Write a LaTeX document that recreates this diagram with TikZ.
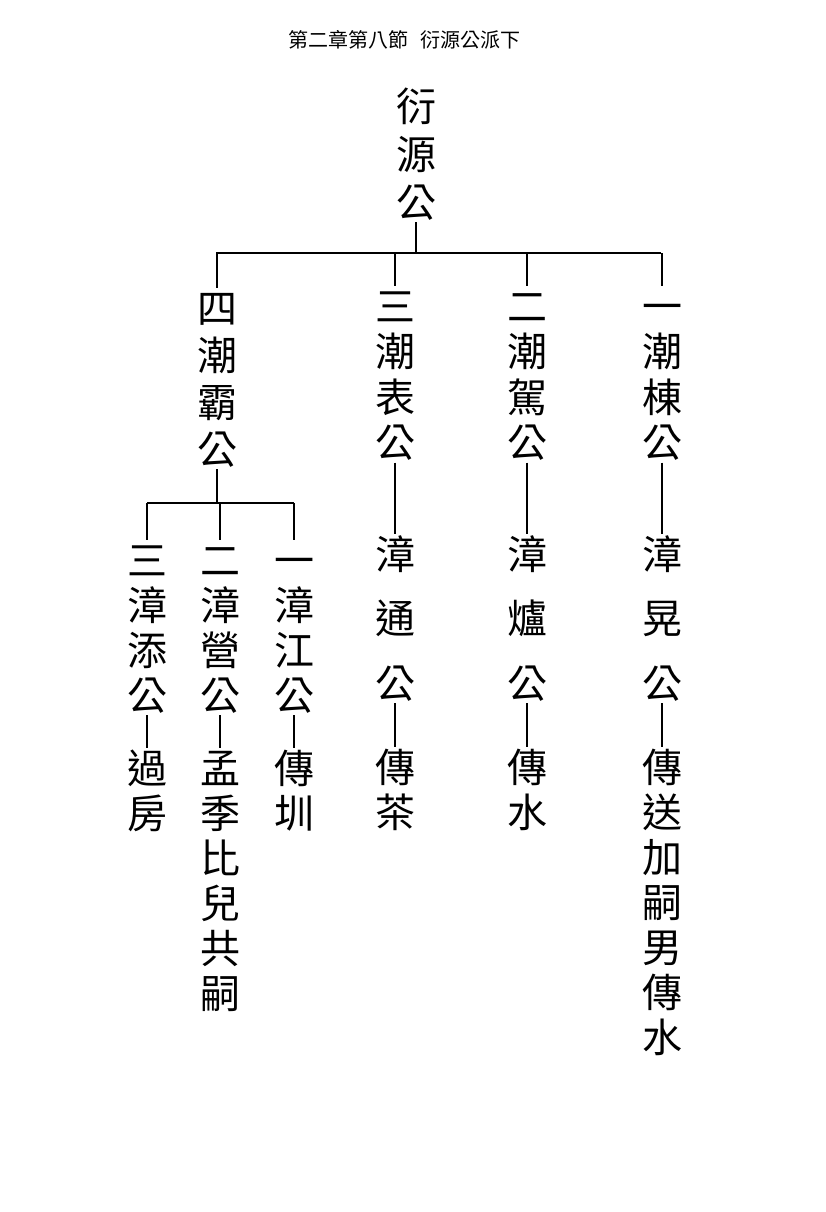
\documentclass[tikz,border=0pt]{standalone}
\usepackage{fontspec}
\newfontfamily\cjk{Noto Sans CJK TC}
\newcommand\vcol[5]{%
  \foreach \c [count=\i] in {#5}{\node[ch] (#1-\i) at ({#2},{#3+(\i-1)*#4}) {\c};}}
\begin{document}
\begin{tikzpicture}[x=1pt,y=-1pt,
  ch/.style={font=\cjk\fontsize{40}{40}\selectfont, inner sep=0pt,
             text height=35.2pt, text depth=4.8pt, anchor=center},
  ln/.style={line width=1.5pt, draw=black},
  ttl/.style={font=\cjk\fontsize{20}{20}\selectfont, inner sep=0pt}]
\useasboundingbox[fill=white] (0,0) rectangle (826,1212);
\node[ttl] (title) at (404,40) {第二章第八節\hspace{12pt}衍源公派下};
% top
\vcol{t}{416}{106}{48}{衍,源,公}
\coordinate (hl) at (216,253);
\coordinate (hr) at (661,253);
\draw[ln] (t-3.south) -- (t-3.south |- hl);
\draw[ln] (hl) -- (hr);
% column 1
\vcol{a1}{662}{306}{45.5}{一,潮,棟,公}
\vcol{a2}{662}{554}{64.5}{漳,晃,公}
\vcol{a3}{662}{767}{45}{傳,送,加,嗣,男,傳,水}
% column 2
\vcol{b1}{527}{306}{45.5}{二,潮,駕,公}
\vcol{b2}{527}{554}{64.5}{漳,爐,公}
\vcol{b3}{527}{767}{45}{傳,水}
% column 3
\vcol{c1}{395}{306}{45.5}{三,潮,表,公}
\vcol{c2}{395}{554}{64.5}{漳,通,公}
\vcol{c3}{395}{767}{45}{傳,茶}
% column 4
\vcol{d1}{217}{308}{47}{四,潮,霸,公}
\foreach \n in {a,b,c,d}{
  \draw[ln] (\n1-1.north |- hl) -- (\n1-1.north);}
\foreach \n in {a,b,c}{
  \draw[ln] (\n1-4.south) -- (\n2-1.north);
  \draw[ln] (\n2-3.south) -- (\n3-1.north);}
% sub columns of column 4
\coordinate (sh) at (217,503);
\vcol{e1}{294}{560}{45}{一,漳,江,公}
\vcol{e2}{294}{768}{45}{傳,圳}
\vcol{f1}{220}{560}{45}{二,漳,營,公}
\vcol{f2}{220}{768}{45}{孟,季,比,兒,共,嗣}
\vcol{g1}{147}{560}{45}{三,漳,添,公}
\vcol{g2}{147}{768}{45}{過,房}
\draw[ln] (d1-4.south) -- (d1-4.south |- sh);
\draw[ln] (g1-1.north |- sh) -- (e1-1.north |- sh);
\foreach \n in {e,f,g}{
  \draw[ln] (\n1-1.north |- sh) -- (\n1-1.north);
  \draw[ln] (\n1-4.south) -- (\n2-1.north);}
\end{tikzpicture}
\end{document}
